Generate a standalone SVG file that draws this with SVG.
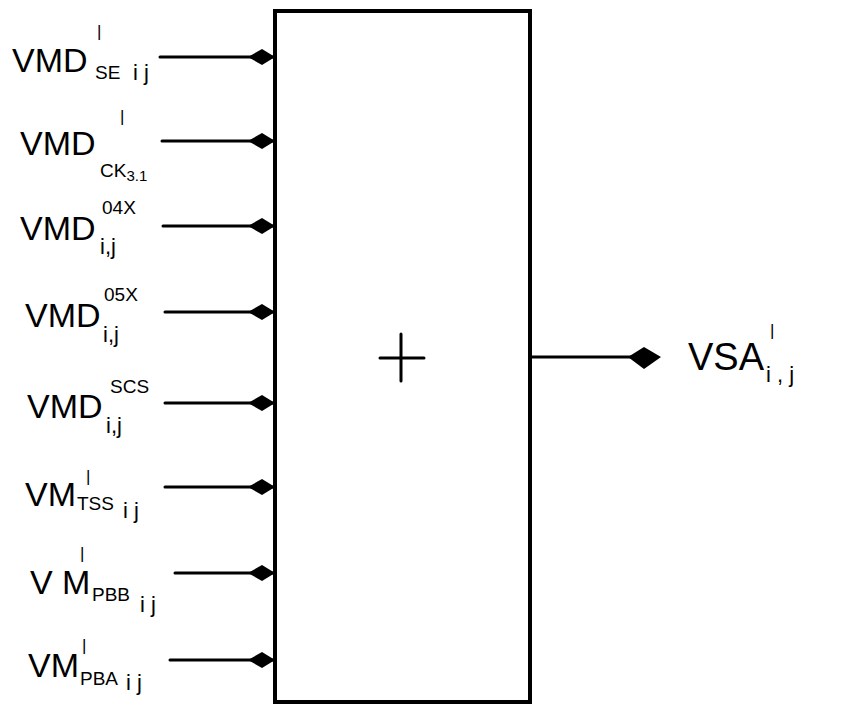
<svg xmlns="http://www.w3.org/2000/svg" xmlns:xlink="http://www.w3.org/1999/xlink" width="845" height="713" viewBox="0 0 845 713">
<style>
.ln{stroke:#000;stroke-width:3;fill:none;stroke-linecap:round}
.box{stroke:#000;stroke-width:4;fill:#fff}
.t{font-family:"Liberation Sans",Arial,sans-serif;fill:#000}
.m{font-size:34px}
.s{font-size:19px}
.q{font-size:22px}
.p{font-size:17px}
</style>
<defs>
<path id="dia" d="M-27,0 L-13,-8 L0,0 L-13,8 Z" fill="#000"/>
</defs>
<rect width="845" height="713" fill="#fff"/>
<g id="block">
<rect class="box" x="275" y="11" width="255" height="691"/>
<path class="ln" d="M380,358 H424 M401,334 V381"/>
</g>
<g id="connectors">
<path class="ln" d="M160,57 H275 M162,141 H275 M163,226 H275 M165,312 H275 M165,403 H275 M165,487 H275 M175,573 H275 M170,660 H275 M530,357 H640"/>
<use xlink:href="#dia" x="275" y="57"/>
<use xlink:href="#dia" x="275" y="141"/>
<use xlink:href="#dia" x="275" y="226"/>
<use xlink:href="#dia" x="275" y="312"/>
<use xlink:href="#dia" x="275" y="403"/>
<use xlink:href="#dia" x="275" y="487"/>
<use xlink:href="#dia" x="275" y="573"/>
<use xlink:href="#dia" x="275" y="660"/>
<path d="M628,357 L644,347 L661,357 L644,369 Z" fill="#000"/>
</g>
<g id="in1" class="t"><text class="m" x="12" y="72">VMD</text><text class="s" x="95" y="79">SE</text><text class="q" x="133" y="80">i j</text><text class="p" x="97" y="37">|</text></g>
<g id="in2" class="t"><text class="m" x="20" y="155">VMD</text><text class="s" x="100" y="177">CK<tspan font-size="15" dy="4">3.1</tspan></text><text class="p" x="120" y="122">|</text></g>
<g id="in3" class="t"><text class="m" x="20" y="240">VMD</text><text class="s" x="102" y="214">04X</text><text class="q" x="100" y="254">i,j</text></g>
<g id="in4" class="t"><text class="m" x="25" y="327">VMD</text><text class="s" x="104" y="301">05X</text><text class="q" x="103" y="342">i,j</text></g>
<g id="in5" class="t"><text class="m" x="27" y="418">VMD</text><text class="s" x="110" y="393">SCS</text><text class="q" x="106" y="433">i,j</text></g>
<g id="in6" class="t"><text class="m" x="25" y="506">VM</text><text class="s" x="77" y="510">TSS</text><text class="q" x="123" y="518">i j</text><text class="p" x="86" y="482">|</text></g>
<g id="in7" class="t"><text class="m" x="30" y="594">V M</text><text class="s" x="92" y="601">PBB</text><text class="q" x="140" y="612">i j</text><text class="p" x="80" y="559">|</text></g>
<g id="in8" class="t"><text class="m" x="28" y="677">VM</text><text class="s" x="80" y="685">PBA</text><text class="q" x="126" y="690">i j</text><text class="p" x="82" y="651">|</text></g>
<g id="out" class="t"><text class="m" x="688" y="370" style="font-size:38px">VSA</text><text class="p" x="770" y="336">|</text><text class="q" x="766" y="382">i , j</text></g>
</svg>
